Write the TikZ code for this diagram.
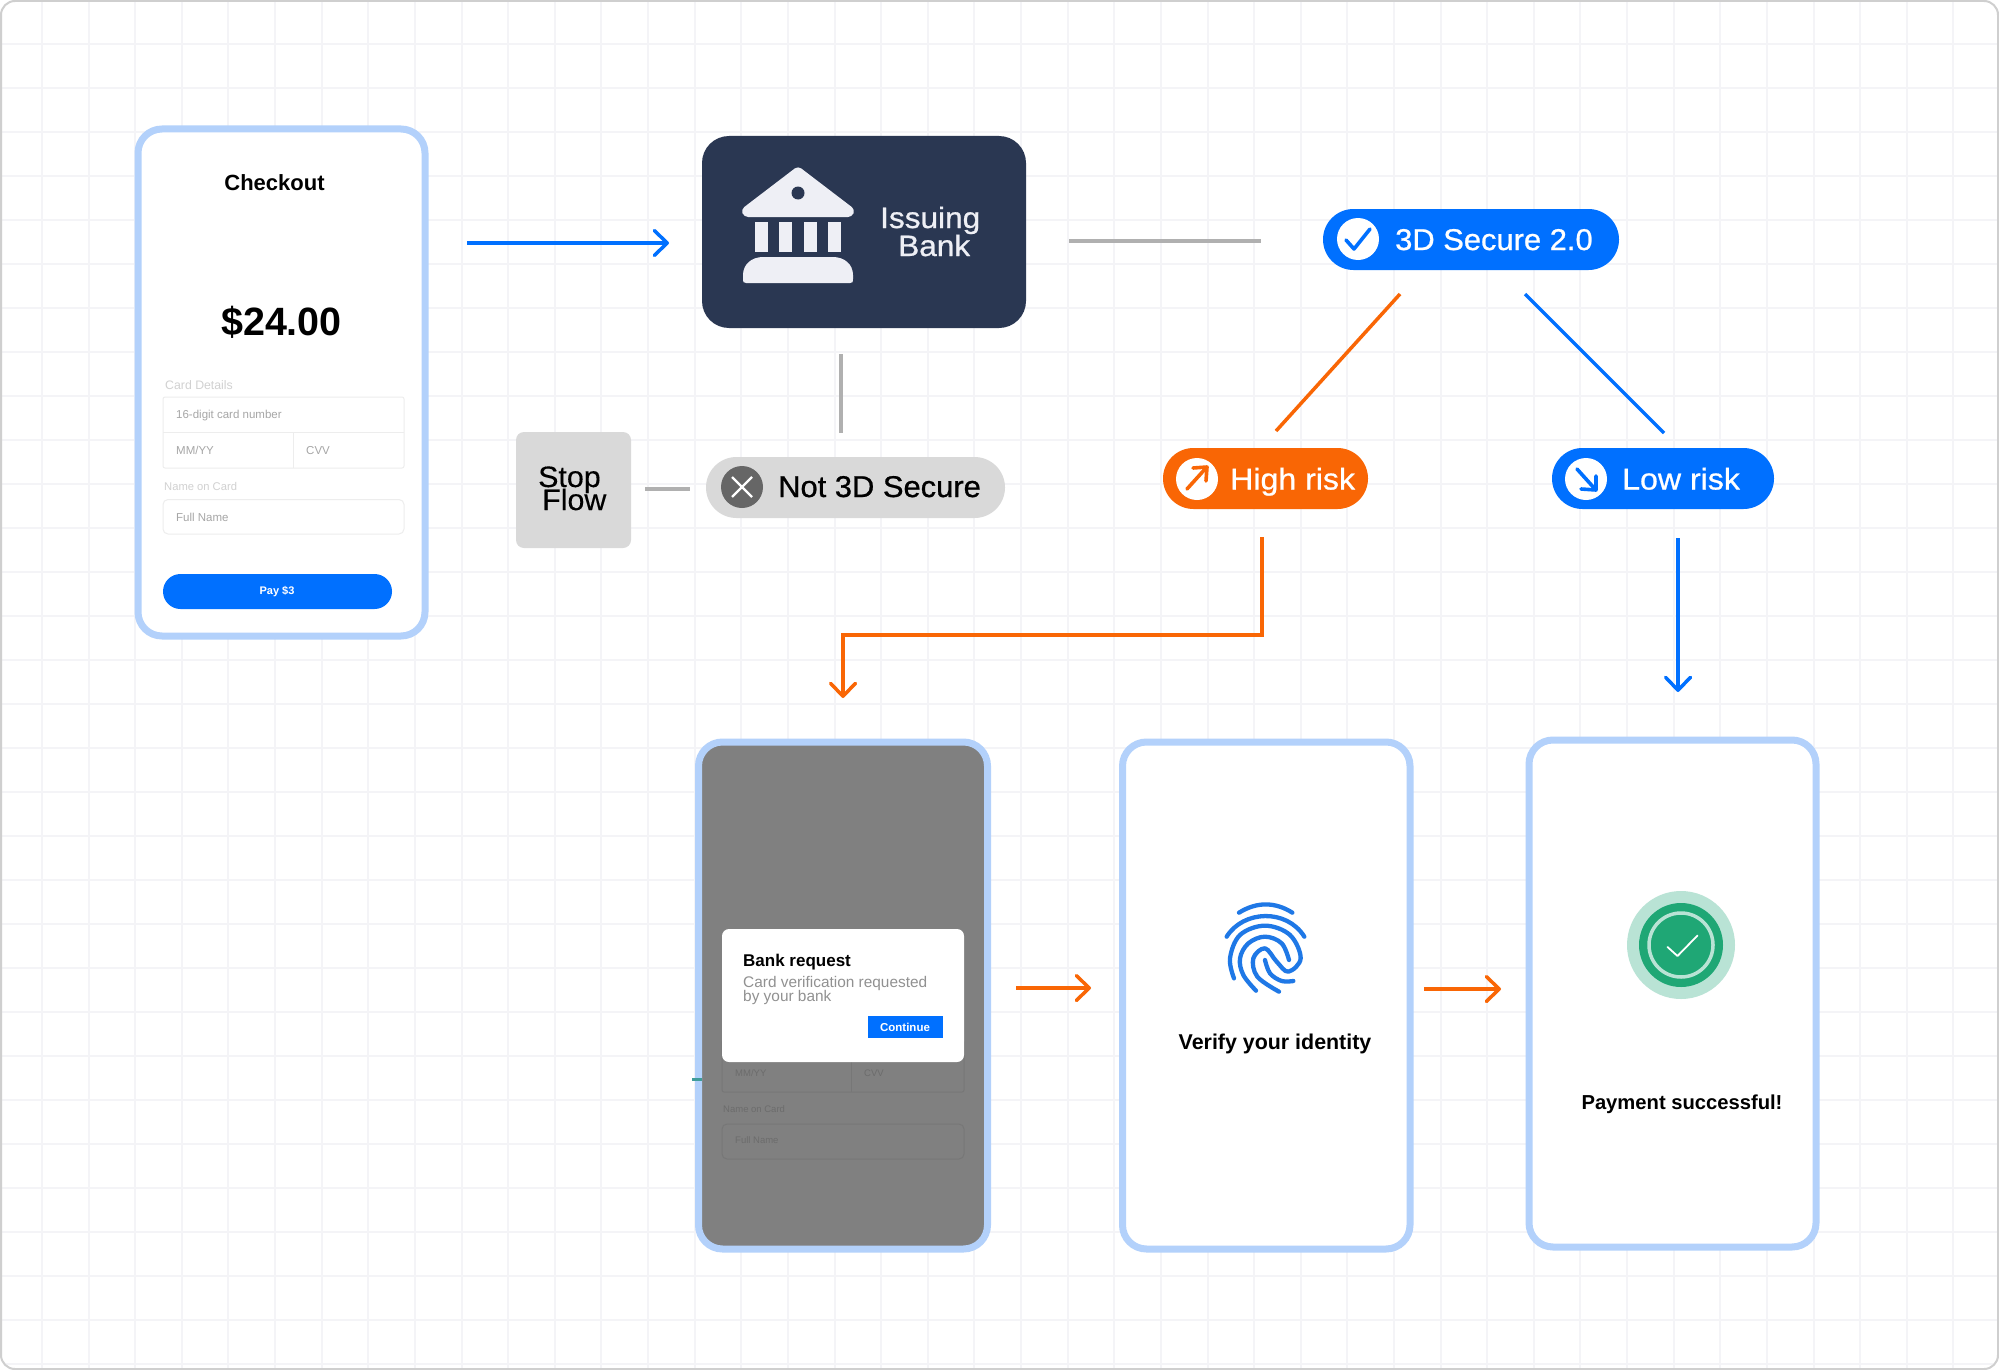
\documentclass[tikz,border=0pt]{standalone}
\usepackage{fontspec}
\usetikzlibrary{arrows.meta}
\setmainfont{Liberation Sans}
\newfontfamily\medA[FakeBold=0.8,FakeStretch=1.03]{Liberation Sans}
\newfontfamily\medB[FakeBold=0.8,FakeStretch=1.07]{Liberation Sans}
\newfontfamily\wideA[FakeBold=0.3,FakeStretch=1.03]{Liberation Sans}
\newcommand\tightlines{\lineskiplimit=-50pt\relax}
\definecolor{gridc}{HTML}{F4F4F7}
\definecolor{framec}{HTML}{CFCFCF}
\definecolor{phonec}{HTML}{B3D1FB}
\definecolor{bluec}{HTML}{0070FF}
\definecolor{orangec}{HTML}{F96605}
\definecolor{navyc}{HTML}{2A3752}
\definecolor{iconc}{HTML}{EEEFF5}
\definecolor{pillgray}{HTML}{D9D9D9}
\definecolor{linegray}{HTML}{B0B0B0}
\definecolor{fieldc}{HTML}{EDEDED}
\definecolor{dimc}{HTML}{808080}
\definecolor{dimline}{HTML}{777777}
\definecolor{dimtext}{HTML}{6C6C6C}
\definecolor{tealc}{HTML}{3F9C9A}
\definecolor{printc}{HTML}{1F78E6}
\definecolor{greenl}{HTML}{B9E3D5}
\definecolor{greend}{HTML}{1FA775}
\tikzset{
  x=1pt,y=-1pt,
  phone/.style={draw=phonec,line width=7pt,fill=white,rounded corners=24pt},
  pilltxt/.style={text=white,anchor=base west,inner sep=0pt,font=\medA\fontsize{30}{30}\selectfont},
  risktxt/.style={text=white,anchor=base west,inner sep=0pt,font=\medB\fontsize{30}{30}\selectfont},
  lab/.style={anchor=base west,inner sep=0pt},
  mid/.style={anchor=center,inner sep=0pt},
  field/.style={draw=fieldc,line width=1pt},
  fieldtxt/.style={anchor=west,inner sep=0pt,text=black!35,font=\fontsize{11.5}{12}\selectfont},
  dimtxt/.style={anchor=west,inner sep=0pt,text=dimtext,font=\fontsize{9.5}{10}\selectfont},
  dimfield/.style={draw=dimline,line width=1pt},
  flow/.style={line width=3.5pt},
  head/.style={-{Straight Barb[length=13pt,width=25pt,line width=3.5pt,round]}},
  plain/.style={draw=linegray,line width=4pt},
  printline/.style={draw=printc,line width=4.3pt,line cap=round,line join=round},
}
\begin{document}
\begin{tikzpicture}
\useasboundingbox (0,0) rectangle (1999,1370);
% frame + grid
\fill[white] (0,0) rectangle (1999,1370);
\begin{scope}
\clip[rounded corners=14pt] (1,1) rectangle (1998,1369);
\foreach \k in {0,...,41} \draw[gridc,line width=2pt] ({42+46.62*\k},0) -- ({42+46.62*\k},1370);
\foreach \k in {1,...,31} \draw[gridc,line width=2pt] (0,{44*\k}) -- (1999,{44*\k});
\end{scope}
\draw[framec,line width=2pt,rounded corners=14pt] (1,1) rectangle (1998,1369);

% Checkout phone
\draw[phone] (138,129) rectangle (425,636);
\node[mid,font=\fontsize{22}{22}\selectfont\bfseries] (checkout) at (274.5,182.5) {Checkout};
\node[mid,font=\fontsize{39.5}{39}\selectfont\bfseries] (price) at (281.5,322.5) {\$24.00};
\node[lab,text=black!18,font=\fontsize{12.3}{13}\selectfont] (carddetails) at (165,389) {Card Details};
\draw[field,rounded corners=2pt] (163,397) rectangle (404,468);
\draw[field] (163,432) -- (404,432) (293,432) -- (293,468);
\node[fieldtxt] (cardnum) at (176,416) {16-digit card number};
\node[fieldtxt] (mmyy) at (176,450.5) {MM/YY};
\node[fieldtxt] (cvv) at (306,450.5) {CVV};
\node[lab,text=black!18,font=\fontsize{11.2}{12}\selectfont] (nameon) at (164,490.5) {Name on Card};
\draw[field,rounded corners=5pt] (163,499.5) rectangle (404,534);
\node[fieldtxt] (fullname) at (176,517.5) {Full Name};
\draw[fill=bluec,draw=none,rounded corners=17.5pt] (163,574) rectangle (392,609);
\node[mid,text=white,font=\fontsize{11}{11}\selectfont\bfseries] (pay) at (277,592) {Pay \$3};

% Issuing bank
\fill[navyc,rounded corners=27pt] (702,136) rectangle (1026,328);
\fill[iconc,rounded corners=4pt] (798,166) -- (855,209.5) -- (852,217) -- (744,217) -- (741,209.5) -- cycle;
\fill[navyc] (798,193) circle[radius=6.5];
\foreach \cx in {755,779,804,828} \fill[iconc] (\cx,222) rectangle ++(12.5,30);
\fill[iconc] (746,283) .. controls (743,283) and (743,282) .. (743,279) -- (743,275)
  .. controls (743,264) and (752,257) .. (763,257) -- (833,257)
  .. controls (844,257) and (853,264) .. (853,275) -- (853,279)
  .. controls (853,282) and (853,283) .. (850,283) -- cycle;
\node[lab,text=iconc,align=left,font=\medB\fontsize{29.5}{28}\selectfont\tightlines] (issuing) at (880,256) {Issuing\\\hspace*{18pt}Bank};

% 3D secure pill
\fill[bluec,rounded corners=30.5pt] (1323,209) rectangle (1619,270);
\fill[white] (1358,239) circle[radius=21];
\draw[bluec,line width=3.6pt,line cap=round,line join=round] (1346,240) -- (1354,249) -- (1370,229);
\node[pilltxt] (secure) at (1395,250) {3D Secure 2.0};

% High risk
\fill[orangec,rounded corners=30.5pt] (1163,448) rectangle (1368,509);
\fill[white] (1197,479) circle[radius=21];
\draw[orangec,line width=3.6pt,line cap=round,line join=round] (1187,489) -- (1206,468);
\draw[orangec,line width=3.6pt,line cap=round,line join=round] (1193,468) -- (1207,467) -- (1206,481);
\node[risktxt] (high) at (1230,489.5) {High risk};

% Low risk
\fill[bluec,rounded corners=30.5pt] (1552,448) rectangle (1774,509);
\fill[white] (1586,479) circle[radius=21];
\draw[bluec,line width=3.6pt,line cap=round,line join=round] (1577,469) -- (1595,489);
\draw[bluec,line width=3.6pt,line cap=round,line join=round] (1596,476) -- (1596,490) -- (1581,489);
\node[risktxt] (low) at (1622,489.5) {Low risk};

% Stop flow and Not 3D Secure
\fill[pillgray,rounded corners=8pt] (516,432) rectangle (631,548);
\node[lab,align=left,font=\wideA\fontsize{29.5}{23}\selectfont\tightlines] (stop) at (538,510) {Stop\\\hspace*{4pt}Flow};
\fill[pillgray,rounded corners=30.5pt] (706,457) rectangle (1005,518);
\fill[black!60] (742,487) circle[radius=21];
\draw[white,line width=2.4pt] (732,477) -- (752,497) (752,477) -- (732,497);
\node[lab,font=\medA\fontsize{30}{30}\selectfont] (not3d) at (778,497) {Not 3D Secure};

% Bank request phone
\draw[draw=phonec,line width=7pt,fill=dimc,rounded corners=24pt] (698.5,742) rectangle (987.5,1249);
\draw[tealc,line width=3pt] (692,1079) -- (702,1079);
\draw[dimfield,rounded corners=2pt] (722,1040) rectangle (964,1092);
\draw[dimfield] (851,1040) -- (851,1092);
\node[dimtxt] (mmyyb) at (735,1073) {MM/YY};
\node[dimtxt] (cvvb) at (864,1073) {CVV};
\node[dimtxt] (nameb) at (723,1109) {Name on Card};
\draw[dimfield,rounded corners=5pt] (722,1124) rectangle (964,1159);
\node[dimtxt] (fullb) at (735,1140.5) {Full Name};
\fill[white,rounded corners=7pt] (722,929) rectangle (964,1062);
\node[lab,font=\fontsize{17}{17}\selectfont\bfseries] (bankreq) at (743,966) {Bank request};
\node[lab,text=black!43,align=left,font=\fontsize{15.4}{14}\selectfont\tightlines] (cardver) at (743,1001) {Card verification requested\\by your bank};
\fill[bluec] (868,1016) rectangle (943,1038);
\node[mid,text=white,font=\fontsize{11.5}{12}\selectfont\bfseries] (continue) at (905,1027.5) {Continue};

% Verify phone
\draw[phone] (1122.5,742) rectangle (1410,1249);
\begin{scope}[shift={(1180,880)},x=0.3333pt,y=-0.3333pt]
\draw[printline] (177,98) .. controls (230,65) and (285,65) .. (337,98);
\draw[printline] (140,170) .. controls (190,90) and (320,85) .. (373,170);
\draw[printline] plot[smooth,tension=0.6] coordinates {(162,295) (150,235) (180,165) (255,137) (330,165) (362,235) (325,275) (290,245) (255,205) (220,235) (232,290) (297,335)};
\draw[printline] plot[smooth,tension=0.6] coordinates {(228,332) (190,285) (180,235) (205,190) (255,170) (305,190) (327,240)};
\draw[printline] plot[smooth,tension=0.6] coordinates {(255,240) (270,280) (305,303) (340,303)};
\end{scope}
\node[mid,font=\fontsize{21.4}{22}\selectfont\bfseries] (verify) at (1275,1044) {Verify your identity};

% Success phone
\draw[phone] (1529,740) rectangle (1816,1247);
\fill[greenl] (1681,945) circle[radius=54];
\fill[greend] (1681,945) circle[radius=42];
\draw[greenl,line width=3.5pt] (1681,945) circle[radius=32];
\draw[white,line width=1.8pt,line cap=round,line join=round] (1667.5,947) -- (1677.5,956) -- (1697.5,935.5);
\node[mid,font=\fontsize{20.2}{22}\selectfont\bfseries] (paid) at (1682,1104) {Payment successful!};

% connector ends
\coordinate (a1) at (467,243); \coordinate (a2) at (669,243);
\coordinate (g1) at (1069,241); \coordinate (g2) at (1261,241);
\coordinate (v1) at (841,354); \coordinate (v2) at (841,433);
\coordinate (h1) at (645,489); \coordinate (h2) at (690,489);
\coordinate (o1) at (1400,294); \coordinate (o2) at (1276,431);
\coordinate (b1) at (1525,294); \coordinate (b2) at (1664,433);
\coordinate (e1) at (1262,537); \coordinate (e2) at (1262,635); \coordinate (e3) at (843,635); \coordinate (e4) at (843,698);
\coordinate (d1) at (1678,538); \coordinate (d2) at (1678,692);
\coordinate (r1) at (1016,988); \coordinate (r2) at (1091,988);
\coordinate (s1) at (1424,989); \coordinate (s2) at (1501,989);

% connectors
\draw[bluec,flow,head] (a1) -- (a2);
\draw[plain] (g1) -- (g2);
\draw[plain] (v1) -- (v2);
\draw[plain] (h1) -- (h2);
\draw[orangec,line width=3.5pt] (o1) -- (o2);
\draw[bluec,line width=3.5pt] (b1) -- (b2);
\draw[orangec,flow,head] (e1) -- (e2) -- (e3) -- (e4);
\draw[bluec,flow,head] (d1) -- (d2);
\draw[orangec,flow,head] (r1) -- (r2);
\draw[orangec,flow,head] (s1) -- (s2);
\end{tikzpicture}
\end{document}
